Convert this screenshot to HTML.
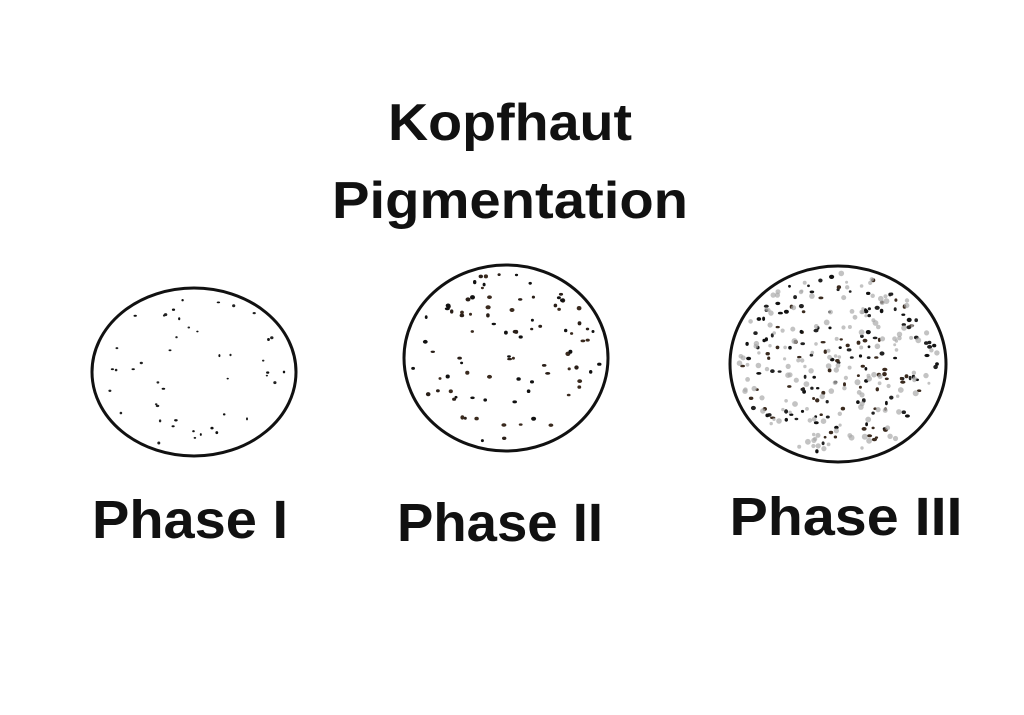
<!DOCTYPE html>
<html><head><meta charset="utf-8"><style>
html,body{margin:0;padding:0;background:#fff;width:1024px;height:715px;overflow:hidden}
svg{display:block}
text{font-family:"Liberation Sans",sans-serif;font-weight:bold;fill:#111}
</style></head><body>
<svg id="s" width="1024" height="715" viewBox="0 0 1024 715">
<text x="510" y="140" font-size="52" text-anchor="middle" textLength="244" lengthAdjust="spacingAndGlyphs">Kopfhaut</text>
<text x="510" y="218" font-size="52" text-anchor="middle" textLength="356" lengthAdjust="spacingAndGlyphs">Pigmentation</text>
<ellipse cx="194" cy="372" rx="102" ry="84" fill="#fff" stroke="#111" stroke-width="3"/>
<ellipse cx="506" cy="358" rx="102" ry="93" fill="#fff" stroke="#111" stroke-width="3"/>
<ellipse cx="838" cy="364" rx="108" ry="98" fill="#fff" stroke="#111" stroke-width="3"/>
<g id="dots"></g>
<text x="190" y="538" font-size="54" text-anchor="middle" textLength="196" lengthAdjust="spacingAndGlyphs">Phase I</text>
<text x="500" y="541" font-size="54" text-anchor="middle" textLength="206" lengthAdjust="spacingAndGlyphs">Phase II</text>
<text x="846" y="535" font-size="54" text-anchor="middle" textLength="233" lengthAdjust="spacingAndGlyphs">Phase III</text>
</svg>
<script>
var seed=7;function r(){seed=(seed*16807)%2147483647;return (seed-1)/2147483646;}
var g=document.getElementById('dots'),h='';
function fill(cx,cy,rx,ry,n,grey,size,colors){
 for(var i=0;i<n;i++){var a=r()*6.283,d=Math.sqrt(r())*0.92;
  var x=cx+Math.cos(a)*d*rx,y=cy+Math.sin(a)*d*ry;
  var c=colors[Math.floor(r()*colors.length)];
  h+='<ellipse cx="'+x.toFixed(1)+'" cy="'+y.toFixed(1)+'" rx="'+(size*(0.7+r()*0.6)).toFixed(1)+'" ry="'+(size*(0.6+r()*0.5)).toFixed(1)+'" fill="'+c+'"/>';}
 for(var j=0;j<grey;j++){var a=r()*6.283,d=Math.sqrt(r())*0.93;
  h+='<circle cx="'+(cx+Math.cos(a)*d*rx).toFixed(1)+'" cy="'+(cy+Math.sin(a)*d*ry).toFixed(1)+'" r="'+(1.5+r()*1.5).toFixed(1)+'" fill="#aaa" opacity="0.7"/>';}
}
fill(194,372,102,84,45,0,1.4,['#111','#222']);
fill(506,358,102,93,90,0,2,['#111','#3a2a1e','#2a1f18']);
fill(838,364,108,98,170,160,2,['#111','#3a2a1e','#222']);
g.innerHTML=h;
</script>
</body></html>
